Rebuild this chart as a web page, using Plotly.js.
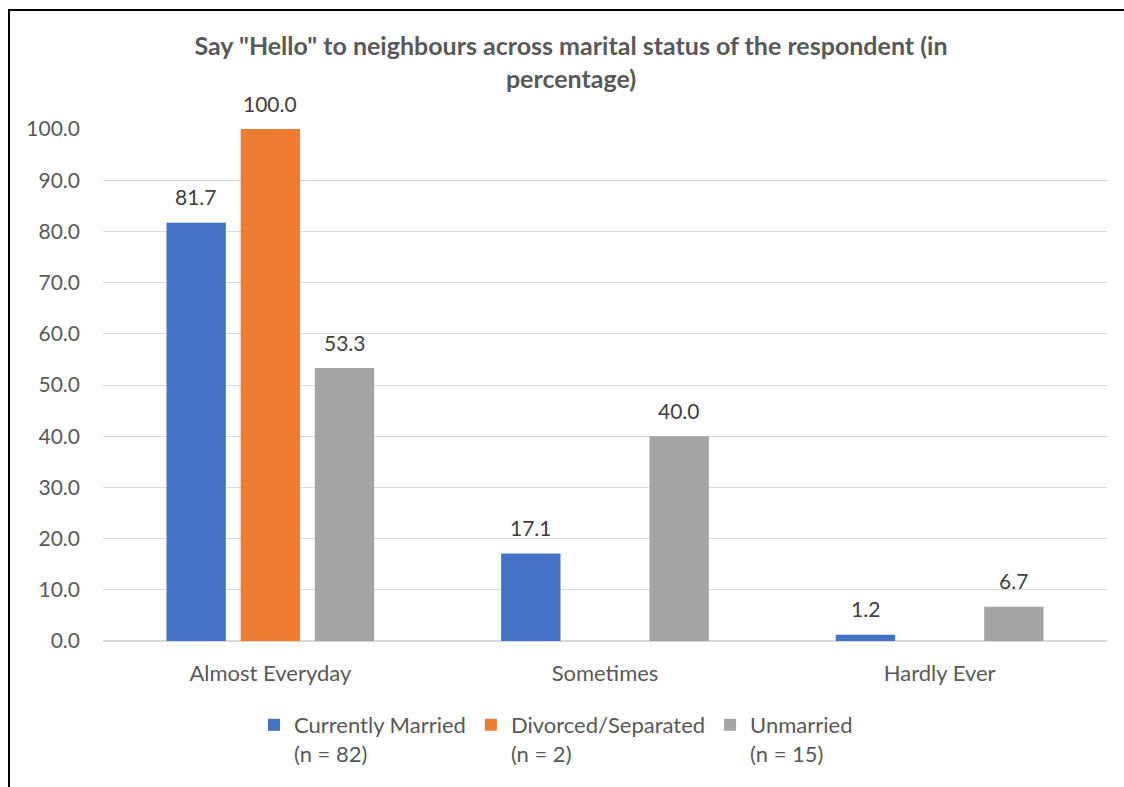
<!DOCTYPE html>
<html>
<head>
<meta charset="utf-8">
<script src="https://cdn.plot.ly/plotly-3.0.1.min.js"></script>
<style>
  html, body { margin: 0; padding: 0; background: #fff; }
  #wrap { position: relative; width: 1124px; height: 787px; overflow: hidden; }
  #chart { width: 1124px; height: 787px; }
  #frame { position: absolute; left: 8px; top: 9px; width: 1130px; height: 800px;
           border-top: 2px solid #000; border-left: 2px solid #000; pointer-events: none; }
</style>
</head>
<body>
<div id="wrap">
  <div id="chart"></div>
  <div id="frame"></div>
</div>
<script>
const categories = ["Almost Everyday", "Sometimes", "Hardly Ever"];
const seriesNames = ["Currently Married<br>(n = 82)", "Divorced/Separated<br>(n = 2)", "Unmarried<br>(n = 15)"];
const currentlyMarried = [81.7, 17.1, 1.2];
const divorcedSeparated = [100.0, null, null];
const unmarried = [53.3, 40.0, 6.7];
const yTickValues = [0, 10, 20, 30, 40, 50, 60, 70, 80, 90, 100];
const chartTitle = 'Say "Hello" to neighbours across marital status of the respondent (in<br>percentage)';

const colors = ["#4472C4", "#ED7D31", "#A5A5A5"];
const seriesValues = [currentlyMarried, divorcedSeparated, unmarried];

const W = 1124, H = 787;
const margin = { l: 103, r: 17, t: 129, b: 146 };
const bargap = 0.335;
const plotW = W - margin.l - margin.r;
const slot = plotW / categories.length * (1 - bargap) / seriesValues.length;

const fontFam = "Lato, 'Open Sans', sans-serif";

const traces = seriesValues.map((vals, i) => ({
  type: "bar",
  name: seriesNames[i],
  x: categories,
  y: vals,
  marker: { color: colors[i] },
  hoverinfo: "skip"
}));

const annotations = [];
seriesValues.forEach((vals, i) => {
  vals.forEach((v, j) => {
    if (v === null || v === undefined) return;
    annotations.push({
      x: categories[j], y: v, xref: "x", yref: "y",
      text: v.toFixed(1), showarrow: false,
      xshift: (i - (seriesValues.length - 1) / 2) * slot,
      yshift: 26, yanchor: "middle",
      font: { family: fontFam, size: 21, color: "#404040" }
    });
  });
});

const layout = {
  width: W, height: H,
  margin: margin,
  paper_bgcolor: "#fff", plot_bgcolor: "#fff",
  title: {
    text: chartTitle,
    font: { family: fontFam, size: 25, color: "#595959", weight: "bold" },
    x: 571 / W, xref: "container", xanchor: "center",
    y: 1 - 55 / H, yref: "container", yanchor: "top"
  },
  barmode: "group",
  bargap: bargap,
  bargroupgap: 0.2,
  showlegend: true,
  legend: {
    orientation: "h",
    xref: "container", yref: "container",
    x: 254 / W, xanchor: "left",
    y: 1 - 704 / H, yanchor: "top",
    valign: "top",
    font: { family: fontFam, size: 22, color: "#595959" },
    traceorder: "normal"
  },
  xaxis: {
    type: "category",
    showgrid: false, showline: false, zeroline: false,
    ticks: "",
    tickfont: { family: fontFam, size: 22, color: "#595959" },
    ticklabelstandoff: 17
  },
  yaxis: {
    range: [0, 100],
    tickvals: yTickValues,
    tickformat: ".1f",
    showgrid: true, gridcolor: "#D9D9D9", gridwidth: 1,
    zeroline: true, zerolinecolor: "#D9D9D9", zerolinewidth: 2,
    showline: false, ticks: "",
    tickfont: { family: fontFam, size: 21, color: "#595959" },
    ticklabelstandoff: 22
  },
  annotations: annotations
};

Plotly.newPlot("chart", traces, layout, { staticPlot: true, displayModeBar: false });
</script>
</body>
</html>
